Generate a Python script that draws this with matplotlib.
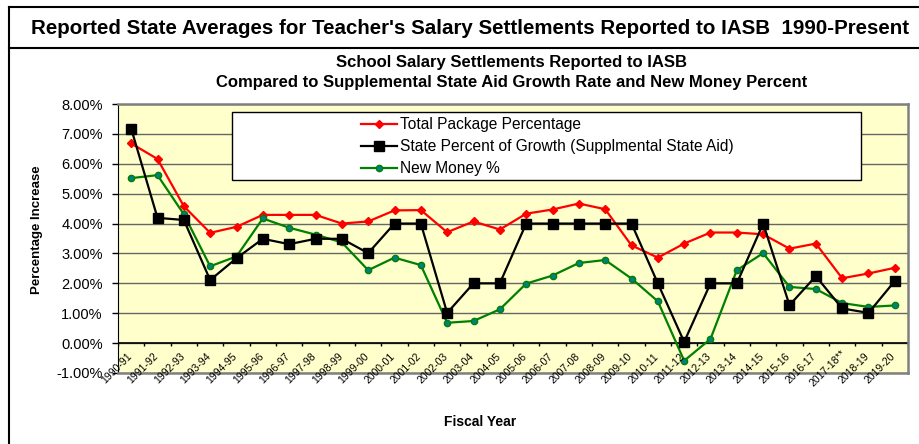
import numpy as np
import matplotlib.pyplot as plt
from matplotlib.patches import Rectangle
from matplotlib.lines import Line2D

plt.rcParams['font.family'] = ['Liberation Sans', 'DejaVu Sans']

# dados
anos = ['1990-91', '1991-92', '1992-93', '1993-94', '1994-95', '1995-96', '1996-97',
        '1997-98', '1998-99', '1999-00', '2000-01', '2001-02', '2002-03', '2003-04',
        '2004-05', '2005-06', '2006-07', '2007-08', '2008-09', '2009-10', '2010-11',
        '2011-12', '2012-13', '2013-14', '2014-15', '2015-16', '2016-17', '2017-18**',
        '2018-19', '2019-20']

total_package = [6.68, 6.16, 4.58, 3.69, 3.89, 4.29, 4.29, 4.29, 4.00, 4.07,
                 4.44, 4.45, 3.71, 4.07, 3.80, 4.33, 4.47, 4.67, 4.48, 3.27,
                 2.86, 3.33, 3.70, 3.70, 3.64, 3.16, 3.33, 2.17, 2.33, 2.52]

state_growth = [7.18, 4.19, 4.12, 2.11, 2.84, 3.49, 3.31, 3.49, 3.49, 3.01,
                4.00, 4.00, 1.01, 2.00, 2.00, 4.00, 4.00, 4.00, 4.00, 4.00,
                2.00, 0.04, 2.00, 2.00, 4.00, 1.27, 2.24, 1.16, 1.01, 2.08]

new_money = [5.52, 5.62, 4.31, 2.57, 2.90, 4.17, 3.86, 3.63, 3.37, 2.44,
             2.86, 2.61, 0.68, 0.74, 1.13, 1.99, 2.26, 2.68, 2.78, 2.16,
             1.40, -0.59, 0.14, 2.44, 3.01, 1.88, 1.81, 1.34, 1.21, 1.26]

rotulos_y = [-1, 0, 1, 2, 3, 4, 5, 6, 7, 8]

W, H = 920, 444
fig = plt.figure(figsize=(W / 100, H / 100), dpi=100)

# moldura externa e caixa do titulo
def px(x, y):
    return x / W, 1 - y / H

for (x0, y0), (x1, y1) in [((8.5, 7.5), (920, 7.5)), ((8.5, 48), (920, 48)), ((8.5, 7.5), (8.5, 444))]:
    a, b = px(x0, y0)
    c, d = px(x1, y1)
    fig.add_artist(Line2D([a, c], [b, d], color='black', lw=1.5, transform=fig.transFigure))

fig.text(*px(470, 29), "Reported State Averages for Teacher's Salary Settlements Reported to IASB  1990-Present",
         ha='center', va='center', fontsize=14.8, fontweight='bold')

left, right, top, bottom = 118, 908, 104, 373
ax = fig.add_axes([left / W, 1 - bottom / H, (right - left) / W, (bottom - top) / H])
ax.set_facecolor('#FFFFCC')

x = np.arange(len(anos))
ax.plot(x, total_package, color='#FF0000', lw=1.6, marker='D', ms=4.5, mfc='#FF0000', mec='#FF0000',
        label='Total Package Percentage', zorder=4)
ax.plot(x, state_growth, color='black', lw=1.6, marker='s', ms=6.5, mfc='black', mec='black',
        label='State Percent of Growth (Supplmental State Aid)', zorder=5)
ax.plot(x, new_money, color='#008000', lw=1.6, marker='o', ms=4.5, mfc='#008080', mec='#008000',
        label='New Money %', zorder=4)

ax.set_xlim(-0.5, len(anos) - 0.5)
ax.set_ylim(-1, 8)
ax.set_yticks(rotulos_y)
ax.set_yticklabels([f'{v:.2f}%' for v in rotulos_y], fontsize=10.5)
ax.tick_params(axis='y', direction='out', length=4, width=1, pad=7)
ax.grid(axis='y', color='#666666', lw=1)
ax.set_axisbelow(True)

# eixo das categorias cruza em 0%
ax.set_xticks([])
ax.axhline(0, color='black', lw=1.2, zorder=2)
ax.vlines(np.arange(len(anos) + 1) - 0.5, -0.1, 0, color='black', lw=1, zorder=2)
for i, nome in enumerate(anos):
    ax.text(i - 0.55, -0.85, nome, rotation=45, ha='center', va='center', fontsize=7.5, zorder=6)

for s in ['top', 'right', 'bottom']:
    ax.spines[s].set_color('#808080')
    ax.spines[s].set_linewidth(1.8)
ax.spines['left'].set_color('black')

ax.set_ylabel('Percentage Increase', fontsize=9.5, fontweight='bold')
ax.yaxis.set_label_coords(-0.095, 0.532)

# caixa da legenda
ax.add_patch(Rectangle((0.144, 0.717), 0.797, 0.253, transform=ax.transAxes,
                       facecolor='white', edgecolor='black', lw=1, zorder=6))
leg = ax.legend(loc='center', bbox_to_anchor=(0.5437, 0.842), frameon=False, fontsize=11.2,
                handlelength=2.3, handletextpad=0.2, labelspacing=0.45, borderpad=0)
leg.set_zorder(7)

fig.text(*px(512, 62), 'School Salary Settlements Reported to IASB', ha='center', va='center',
         fontsize=12, fontweight='bold')
fig.text(*px(512, 82), 'Compared to Supplemental State Aid Growth Rate and New Money Percent',
         ha='center', va='center', fontsize=12, fontweight='bold')
fig.text(*px(480, 422), 'Fiscal Year', ha='center', va='center', fontsize=10, fontweight='bold')

fig.savefig('out.png', dpi=100)
